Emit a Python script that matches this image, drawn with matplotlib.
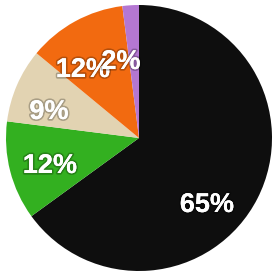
import matplotlib.pyplot as plt
import matplotlib.patheffects as pe

# Daten
anteile = [65, 12, 9, 12, 2]
beschriftungen = ['65%', '12%', '9%', '12%', '2%']
farben = ['#0e0e0e', '#33b020', '#e2d3b2', '#f26a10', '#b477d2']

fig = plt.figure(figsize=(2.77, 2.75), dpi=100)
ax = fig.add_axes([0, 0, 1, 1])

# Kreisdiagramm, im Uhrzeigersinn ab 12 Uhr
keile, _ = ax.pie(anteile, colors=farben, startangle=90, counterclock=False,
                  radius=1.0, center=(0, 0),
                  wedgeprops={'linewidth': 0})

# Platz so wählen, dass der Kreis das Bild fast füllt
r_px = 133
cx, cy = 139, 138
ax.set_xlim(-cx / r_px, (277 - cx) / r_px)
ax.set_ylim(-(275 - cy) / r_px, cy / r_px)
ax.set_aspect('auto')
ax.axis('off')

# Beschriftungen mit Schatten (Position in Pixeln des Bildes)
positionen = [(207, 205), (50, 166), (49, 112), (83, 70), (121, 62)]
for text, (px, py) in zip(beschriftungen, positionen):
    x = (px - cx) / r_px
    y = (cy - py) / r_px
    t = ax.text(x, y, text, color='white', fontsize=19.5, fontweight='bold',
                family='Liberation Sans', ha='center', va='center')
    t.set_path_effects([pe.withStroke(linewidth=2.5, foreground=(0, 0, 0, 0.25)), pe.Normal()])

fig.savefig('out.png', dpi=100, facecolor='white')
